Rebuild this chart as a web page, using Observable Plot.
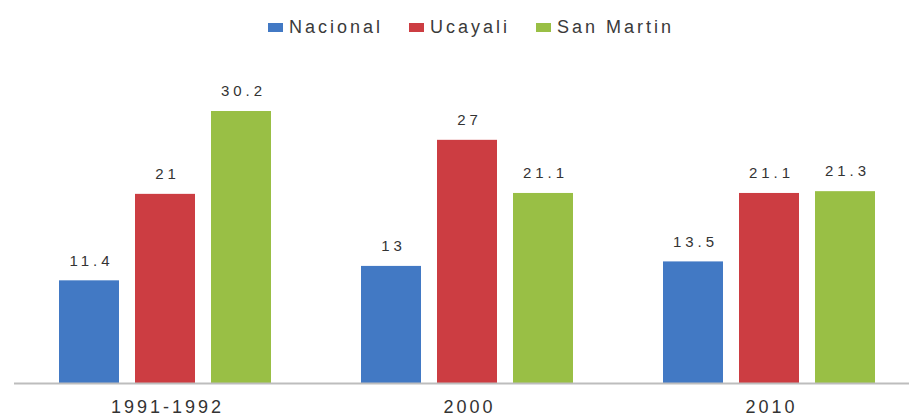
<!DOCTYPE html>
<html>
<head>
<meta charset="utf-8">
<script src="https://cdn.jsdelivr.net/npm/d3@7"></script>
<script src="https://cdn.jsdelivr.net/npm/@observablehq/plot@0.6"></script>
<style>
  body { margin: 0; background: #fff; width: 909px; height: 418px; overflow: hidden; font-family: "Liberation Sans", Arial, sans-serif; }
  #legend { height: 50px; display: flex; justify-content: center; align-items: center; padding-left: 33px; box-sizing: border-box; padding-top: 4px; }
  .item { display: flex; align-items: center; margin: 0 13px; font-size: 18px; letter-spacing: 3px; color: #3a3a3a; }
  .sw { width: 15px; height: 9px; margin-right: 6px; }
</style>
</head>
<body>
<div id="legend"></div>
<div id="chart"></div>
<script>
const groups = ["1991-1992", "2000", "2010"];
const series = ["Nacional", "Ucayali", "San Martin"];
const nacional = [11.4, 13, 13.5];
const ucayali = [21, 27, 21.1];
const sanMartin = [30.2, 21.1, 21.3];
const colors = ["#4279c4", "#cc3d42", "#99bf45"];

const valuesBySeries = [nacional, ucayali, sanMartin];
const data = [];
groups.forEach((g, gi) => {
  series.forEach((s, si) => {
    data.push({group: g, series: s, value: valuesBySeries[si][gi]});
  });
});

const legend = document.getElementById("legend");
series.forEach((s, i) => {
  const it = document.createElement("div");
  it.className = "item";
  it.innerHTML = `<span class="sw" style="background:${colors[i]}"></span><span>${s}</span>`;
  legend.appendChild(it);
});

const chart = Plot.plot({
  width: 909,
  height: 368,
  marginTop: 61,
  marginBottom: 35,
  marginLeft: 13,
  marginRight: 0,
  style: {fontFamily: "Liberation Sans, Arial, sans-serif", background: "#fff"},
  fx: {domain: groups, range: [13, 920], padding: 0, axis: null},
  x: {domain: series, paddingInner: 0.216, paddingOuter: 0.585, axis: null},
  y: {domain: [0, 30.2], axis: null},
  color: {domain: series, range: colors},
  marks: [
    Plot.barY(data, {fx: "group", x: "series", y: "value", fill: "series"}),
    Plot.ruleY([0], {stroke: "#bdbdbd", strokeWidth: 2}),
    Plot.text(data, {fx: "group", x: "series", y: "value", text: d => String(d.value), dy: -20, dx: 2, fontSize: 15, fill: "#333", className: "vals"}),
    Plot.text(groups, {fx: d => d, text: d => d, frameAnchor: "bottom", dy: 29, dx: 2, fontSize: 18, fill: "#333", className: "cats"})
  ]
});
chart.querySelectorAll(".vals text").forEach(t => { t.style.letterSpacing = "4px"; });
chart.querySelectorAll(".cats text").forEach(t => { t.style.letterSpacing = "3px"; });
document.getElementById("chart").appendChild(chart);
</script>
</body>
</html>
